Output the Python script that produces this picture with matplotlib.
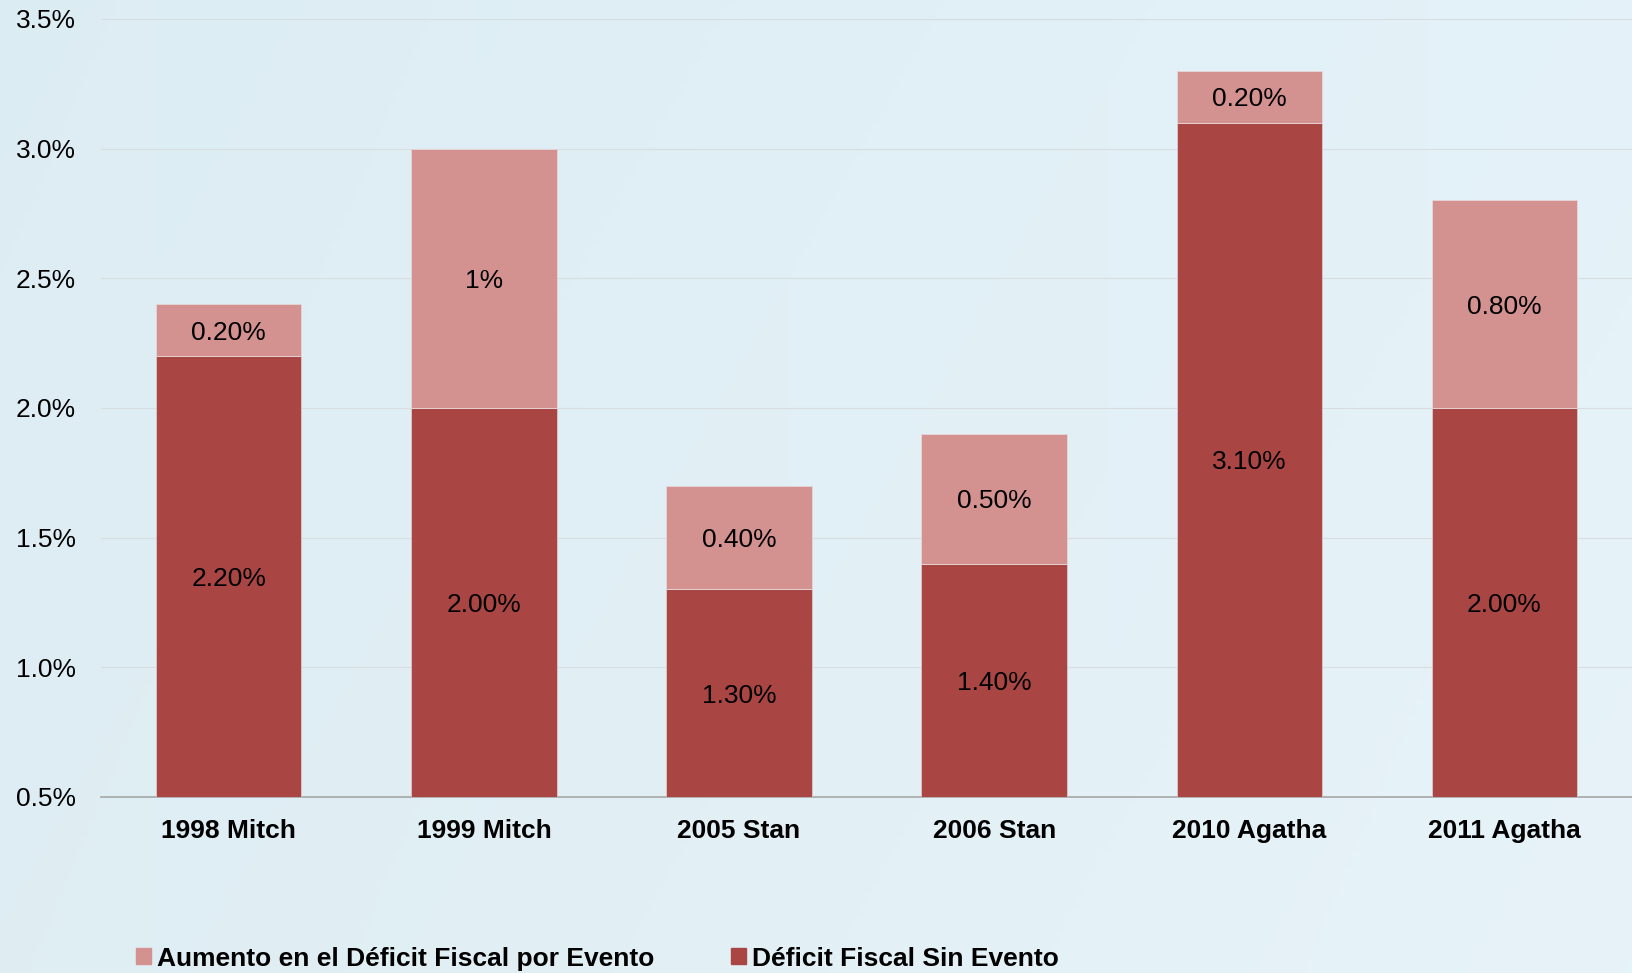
import matplotlib
matplotlib.use("Agg")
import matplotlib.pyplot as plt
import numpy as np
from matplotlib.patches import Patch

categories = ["1998 Mitch", "1999 Mitch", "2005 Stan", "2006 Stan", "2010 Agatha", "2011 Agatha"]
deficit_sin_evento = [2.2, 2.0, 1.3, 1.4, 3.1, 2.0]
aumento_evento = [0.2, 1.0, 0.4, 0.5, 0.2, 0.8]
labels_sin = ["2.20%", "2.00%", "1.30%", "1.40%", "3.10%", "2.00%"]
labels_aum = ["0.20%", "1%", "0.40%", "0.50%", "0.20%", "0.80%"]
yticks = [0.5, 1.0, 1.5, 2.0, 2.5, 3.0, 3.5]
ytick_labels = ["0.5%", "1.0%", "1.5%", "2.0%", "2.5%", "3.0%", "3.5%"]
legend_labels = ["Aumento en el Déficit Fiscal por Evento", "Déficit Fiscal Sin Evento"]

dark = "#A94643"
light = "#D39190"
FS = 19

plt.rcParams['font.family'] = ['Liberation Sans', 'DejaVu Sans']

fig = plt.figure(figsize=(16.32, 9.73), dpi=100)
# background gradient
bg = fig.add_axes([0, 0, 1, 1], zorder=-10)
grad = np.linspace(0, 1, 256)
gx, gy = np.meshgrid(grad, grad)
r = 0.875 + 0.03 * gx - 0.01 * gy
g = 0.933 + 0.02 * gx - 0.005 * gy
b = 0.955 + 0.02 * gx
img = np.dstack([r, g, b]).clip(0, 1)
bg.imshow(img, aspect='auto', extent=[0, 1, 0, 1], origin='lower')
bg.axis('off')

ax = fig.add_axes([0.062, 0.181, 0.938, 0.7995])
ax.patch.set_alpha(0)
x = np.arange(len(categories))
w = 0.57
ax.bar(x, deficit_sin_evento, width=w, color=dark, edgecolor="#dcc9cc", linewidth=0.6, zorder=3)
ax.bar(x, aumento_evento, width=w, bottom=deficit_sin_evento, color=light, edgecolor="#e6d6d8", linewidth=0.6, zorder=3)

ymin, ymax = 0.5, 3.5
ax.set_ylim(ymin, ymax)
ax.set_xlim(-0.5, len(categories) - 0.5)

for i in range(len(categories)):
    base = deficit_sin_evento[i]
    top = base + aumento_evento[i]
    ax.text(x[i], (ymin + base) / 2, labels_sin[i], ha='center', va='center_baseline',
            fontsize=FS, color='black', zorder=4)
    ax.text(x[i], (base + top) / 2, labels_aum[i], ha='center', va='center_baseline',
            fontsize=FS, color='black', zorder=4)

ax.set_yticks(yticks)
ax.set_yticklabels(ytick_labels, fontsize=FS)
ax.set_xticks(x)
ax.set_xticklabels(categories, fontsize=FS, fontweight='bold')
ax.tick_params(axis='both', length=0)
ax.tick_params(axis='y', pad=18)
ax.tick_params(axis='x', pad=16)
ax.grid(axis='y', color='#d8dde0', linewidth=0.8, zorder=0)
for s in ['top', 'right', 'left']:
    ax.spines[s].set_visible(False)
ax.spines['bottom'].set_color('#a6a6a6')
ax.spines['bottom'].set_linewidth(1.2)

handles = [Patch(color=light), Patch(color=dark)]
fig.legend(handles, legend_labels, loc='lower left', bbox_to_anchor=(0.069, -0.022),
           ncol=2, frameon=False, prop={'weight': 'bold', 'size': FS},
           handlelength=0.55, handleheight=0.55, handletextpad=0.25, columnspacing=2.9)

fig.savefig("out.png", dpi=100)
